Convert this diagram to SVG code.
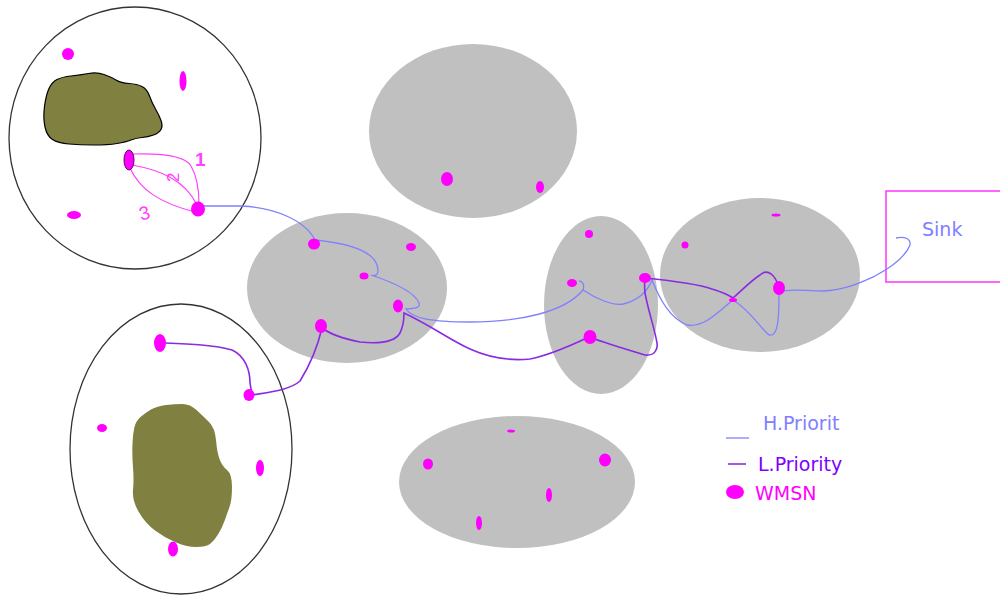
<svg xmlns="http://www.w3.org/2000/svg" width="1000" height="598" viewBox="0 0 1000 598">
  <style>
    .zone { fill: #ffffff; stroke: #333333; stroke-width: 1.3; }
    .cluster { fill: #c0c0c0; stroke: none; }
    .obstacle { fill: #808040; }
    .node { fill: #ff00ff; }
    .hp { fill: none; stroke: #8080ff; stroke-width: 1.3; }
    .lp { fill: none; stroke: #8a2be2; stroke-width: 1.6; }
    .hop { fill: none; stroke: #ff40ff; stroke-width: 1.2; }
    .lbl { font-family: "DejaVu Sans", Verdana, sans-serif; font-size: 19px; }
    .hand { font-family: "Liberation Sans", Arial, sans-serif; fill: #ff40ff; }
  </style>

  <rect width="1000" height="598" fill="#ffffff"/>

  <!-- coverage areas -->
  <g id="area-top-left">
    <ellipse class="zone" cx="135" cy="138" rx="126" ry="131"/>
    <path class="obstacle" stroke="#000" stroke-width="1.2" d="M45,127 Q43,118 44.5,106.5 Q46,95 49,88.5 Q52,82 57,79.5 Q62,77 71,76 Q80,75 88.5,73.5 Q97,72 104,74.5 Q111,77 116,80 Q121,83 129,83.5 Q137,84 142,86.5 Q147,89 149.5,96 Q152,103 155.5,109 Q159,115 161,120.5 Q163,126 161,129.5 Q159,133 153.5,135 Q148,137 142,137.5 Q136,138 131,140 Q126,142 117,143.5 Q108,145 94,145 Q80,145 69,144 Q58,143 52.5,139.5 Q47,136 45,127 Z"/>
  </g>
  <g id="area-bottom-left">
    <ellipse class="zone" cx="181" cy="449" rx="111" ry="145"/>
    <path class="obstacle" d="M132.5,444 Q133,433 134.5,427 Q136,421 140.5,417 Q145,413 151,409.5 Q157,406 166,405 Q175,404 182.5,404 Q190,404 196.5,410 Q203,416 209,422 Q215,428 216,440 Q217,452 219.5,459 Q222,466 227,470 Q232,474 232,487 Q232,500 229.5,507 Q227,514 224.5,521 Q222,528 218,534.5 Q214,541 210,544 Q206,547 196.5,547 Q187,547 176,542.5 Q165,538 155,530.5 Q145,523 138.5,511.5 Q132,500 133,490 Q134,480 133,467.5 Q132,455 132.5,444 Z"/>
  </g>
  <g id="cluster-top"><ellipse class="cluster" cx="473" cy="131" rx="104" ry="87"/></g>
  <g id="cluster-mid"><ellipse class="cluster" cx="347" cy="288" rx="100" ry="75"/></g>
  <g id="cluster-vertical"><ellipse class="cluster" cx="601" cy="305" rx="57" ry="89"/></g>
  <g id="cluster-right"><ellipse class="cluster" cx="760" cy="275" rx="100" ry="77"/></g>
  <g id="cluster-bottom"><ellipse class="cluster" cx="517" cy="482" rx="118" ry="66"/></g>

  <!-- sink -->
  <g id="sink">
    <rect x="886" y="191" width="120" height="91" fill="none" stroke="#ff40ff" stroke-width="1.6"/>
    <text class="lbl" x="922" y="236" fill="#8080ff">Sink</text>
  </g>

  <!-- routes -->
  <g id="connectors">
    <!-- local hops inside the top-left area -->
    <path class="hop" d="M132,154 C160,153 185,155 191,166 C198,178 199,195 199,204"/>
    <path class="hop" d="M132,165 C160,170 185,180 197,205"/>
    <path class="hop" d="M130,168 C140,190 160,203 195,212"/>
    <!-- high priority route -->
    <path class="hp" d="M198,206 L242,206 C275,208 305,220 315,240 C345,243 372,250 377,265 C380,275 375,277 371,275 C395,283 415,293 419,303 C421,308 412,309 406,309 C412,318 430,322 470,322 C520,322 565,312 583,290 C585,284 582,281 579,281 M583,290 C595,298 612,306 623,304 C640,300 648,290 652,280 C660,300 670,318 687,325 C705,328 720,310 733,300 C750,310 762,330 769,335 C778,337 779,320 779,292 C790,288 805,291 823,291 C845,290 862,282 875,276 C890,268 905,258 910,245 C911,239 905,236 896,238"/>
    <!-- low priority route -->
    <path class="lp" d="M165,343 C190,344 215,345 232,350 C245,356 250,370 250,383 L252,395 C270,392 290,390 300,381 C310,365 318,345 322,328 C330,334 345,339 360,342 C380,344 395,342 400,333 C404,325 404,318 404,313 C430,325 450,340 470,349 C490,358 510,361 530,359 C550,355 570,346 589,337 C605,343 625,349 645,355 C655,356 658,349 657,343 C655,330 648,310 645,293 C644,285 645,280 645,278 C665,280 695,283 712,289 C722,292 730,296 733,298 C742,290 752,280 760,275 C768,268 775,275 779,287"/>
  </g>

  <g id="hop-labels">
    <text class="hand" x="195" y="166" font-size="19" font-weight="bold">1</text>
    <text class="hand" x="165" y="180" font-size="17" transform="rotate(-90 173 174)">2</text>
    <text class="hand" x="139" y="219" font-size="19" transform="rotate(-15 147 212)">3</text>
  </g>

  <!-- sensor nodes -->
  <g id="nodes-top-left">
    <ellipse class="node" cx="68" cy="54" rx="6" ry="6"/>
    <ellipse class="node" cx="183" cy="81" rx="3.5" ry="10"/>
    <ellipse class="node" cx="129" cy="160" rx="5" ry="10" stroke="#660066" stroke-width="1"/>
    <ellipse class="node" cx="74" cy="215" rx="7" ry="4"/>
    <ellipse class="node" cx="198" cy="209" rx="7" ry="7.5"/>
  </g>
  <g id="nodes-bottom-left">
    <ellipse class="node" cx="160" cy="343" rx="6" ry="9"/>
    <ellipse class="node" cx="249" cy="395" rx="5.5" ry="6"/>
    <ellipse class="node" cx="102" cy="428" rx="5" ry="4"/>
    <ellipse class="node" cx="260" cy="468" rx="4" ry="8"/>
    <ellipse class="node" cx="173" cy="549" rx="5" ry="7.5"/>
  </g>
  <g id="nodes-cluster-top">
    <ellipse class="node" cx="447" cy="179" rx="6" ry="7"/>
    <ellipse class="node" cx="540" cy="187" rx="4" ry="6"/>
  </g>
  <g id="nodes-cluster-mid">
    <ellipse class="node" cx="314" cy="244" rx="6" ry="5.5"/>
    <ellipse class="node" cx="411" cy="247" rx="5" ry="4"/>
    <ellipse class="node" cx="364" cy="276" rx="4.5" ry="3.5"/>
    <ellipse class="node" cx="398" cy="306" rx="5" ry="6.5"/>
    <ellipse class="node" cx="321" cy="326" rx="6" ry="7"/>
  </g>
  <g id="nodes-cluster-vertical">
    <ellipse class="node" cx="589" cy="234" rx="4" ry="4"/>
    <ellipse class="node" cx="572" cy="283" rx="5" ry="4"/>
    <ellipse class="node" cx="645" cy="278" rx="6" ry="5"/>
    <ellipse class="node" cx="590" cy="337" rx="6.5" ry="7"/>
  </g>
  <g id="nodes-cluster-right">
    <ellipse class="node" cx="685" cy="245" rx="3.5" ry="3.5"/>
    <ellipse class="node" cx="776" cy="215" rx="4.5" ry="1.5"/>
    <ellipse class="node" cx="733" cy="300" rx="4" ry="2"/>
    <ellipse class="node" cx="779" cy="288" rx="6" ry="7"/>
  </g>
  <g id="nodes-cluster-bottom">
    <ellipse class="node" cx="511" cy="431" rx="4" ry="1.5"/>
    <ellipse class="node" cx="428" cy="464" rx="5" ry="5.5"/>
    <ellipse class="node" cx="605" cy="460" rx="6" ry="6.5"/>
    <ellipse class="node" cx="549" cy="495" rx="3" ry="7"/>
    <ellipse class="node" cx="479" cy="523" rx="3" ry="7"/>
  </g>

  <!-- legend -->
  <g id="legend">
    <line x1="726" y1="438" x2="749" y2="438" stroke="#8080ff" stroke-width="1.3"/>
    <text class="lbl" x="763" y="430" fill="#8080ff">H.Priorit</text>
    <line x1="728" y1="464" x2="746" y2="464" stroke="#8a2be2" stroke-width="1.6"/>
    <text class="lbl" x="758" y="471" fill="#8000ff">L.Priority</text>
    <ellipse class="node" cx="735" cy="492" rx="9" ry="7"/>
    <text class="lbl" x="755" y="500" fill="#ff00ff">WMSN</text>
  </g>
</svg>
